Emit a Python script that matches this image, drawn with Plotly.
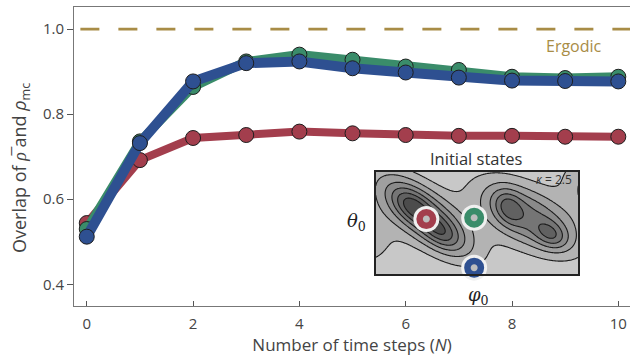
import numpy as np
import plotly.graph_objects as go

# ---------------- data ----------------
steps = list(range(11))
overlap_red = [0.544, 0.692, 0.744, 0.751, 0.759, 0.755, 0.751, 0.749, 0.749, 0.747, 0.747]
overlap_green = [0.530, 0.736, 0.864, 0.924, 0.940, 0.928, 0.912, 0.904, 0.888, 0.885, 0.888]
overlap_blue = [0.512, 0.732, 0.877, 0.920, 0.924, 0.908, 0.898, 0.886, 0.879, 0.878, 0.877]
ergodic_level = 1.0
x_ticks = [0, 2, 4, 6, 8, 10]
y_ticks = [0.4, 0.6, 0.8, 1.0]
y_ticklabels = ["0.4", "0.6", "0.8", "1.0"]

# inset: phase-space landscape (blob centres / widths)
blob_cx = [0.48, 0.353, 0.649, 1.50, 1.308, 1.736]
blob_cy = [0.58, 0.668, 0.407, 0.56, 0.651, 0.381]
blob_amp = [0.70, 0.30, 0.28, 0.62, 0.30, 0.30]
blob_major = [0.42, 0.15, 0.15, 0.40, 0.12, 0.12]
blob_minor = [0.17, 0.09, 0.09, 0.20, 0.09, 0.085]
blob_angle = [-38, -38, -38, -28, -60, -30]
contour_levels = [0.16, 0.30, 0.44, 0.58, 0.72, 0.86]

init_phi = [0.50, 0.972, 0.972]
init_theta = [0.537, 0.550, 0.062]

RED = "#a33e4d"
GREEN = "#3a8c6a"
BLUE = "#2e5091"
GOLD = "#a88c46"
init_colors = [RED, GREEN, BLUE]

FONT = "Open Sans"
TXT = "#444444"

# ---------------- figure ----------------
fig = go.Figure()

# ergodic dashed line
fig.add_trace(go.Scatter(
    x=[-0.12, 10.3], y=[ergodic_level, ergodic_level], mode="lines",
    line=dict(color=GOLD, width=2.6, dash="19px,19px"), hoverinfo="skip", showlegend=False))

for vals, col, lw in [(overlap_red, RED, 8), (overlap_green, GREEN, 9), (overlap_blue, BLUE, 10)]:
    fig.add_trace(go.Scatter(
        x=steps, y=vals, mode="lines+markers",
        line=dict(color=col, width=lw),
        marker=dict(size=15, color=col, line=dict(color="#1e1e1e", width=1)),
        showlegend=False, cliponaxis=False))

# inset contour (periodic in phi)
gx = np.linspace(0, 2, 201)
gy = np.linspace(0, 1, 101)
GX, GY = np.meshgrid(gx, gy)
Z = np.zeros_like(GX)
for cx, cy, a, s1, s2, ang in zip(blob_cx, blob_cy, blob_amp, blob_major, blob_minor, blob_angle):
    t = np.deg2rad(ang)
    for shift in (-2.0, 0.0, 2.0):
        dx = GX - (cx + shift)
        dy = GY - cy
        u = dx * np.cos(t) + dy * np.sin(t)
        v = -dx * np.sin(t) + dy * np.cos(t)
        Z += a * np.exp(-0.5 * ((u / s1) ** 2 + (v / s2) ** 2))
Z = Z / Z.max()

fig.add_trace(go.Contour(
    x=gx, y=gy, z=Z, xaxis="x2", yaxis="y2",
    autocontour=False,
    contours=dict(start=contour_levels[0], end=contour_levels[-1],
                  size=contour_levels[1] - contour_levels[0], coloring="fill"),
    colorscale=[[0, "#c8c8c8"], [1, "#4c4c4c"]], zmin=0.05, zmax=0.95,
    line=dict(color="#1a1a1a", width=1.1), showscale=False, hoverinfo="skip"))

# initial-state markers
fig.add_trace(go.Scatter(
    x=init_phi, y=init_theta, xaxis="x2", yaxis="y2", mode="markers",
    marker=dict(size=26, color="#f0f0f0", line=dict(width=0)),
    showlegend=False, cliponaxis=False, hoverinfo="skip"))
fig.add_trace(go.Scatter(
    x=init_phi, y=init_theta, xaxis="x2", yaxis="y2", mode="markers",
    marker=dict(size=13.5, color="#bdbdbd", line=dict(width=6.5, color=init_colors)),
    showlegend=False, cliponaxis=False, hoverinfo="skip"))

# geometry
L, R, T, B = 74, 0, 7, 51
W, H = 630, 357
pw, ph = W - L - R, H - T - B

def px(x):
    return (x - L) / pw

def py(y):
    return (H - B - y) / ph

def note(text, x, y, size, color, family=FONT, angle=0):
    return dict(text=text, x=px(x), y=py(y), xref="paper", yref="paper",
                xanchor="center", yanchor="middle", showarrow=False, textangle=angle,
                font=dict(size=size, color=color, family=family))

fig.update_layout(
    width=W, height=H,
    margin=dict(l=L, r=R, t=T, b=B),
    paper_bgcolor="white", plot_bgcolor="white",
    font=dict(family=FONT, color=TXT, size=15),
    xaxis=dict(range=[-0.24, 10.22], tickvals=x_ticks, ticks="inside", ticklen=5,
               tickcolor="#555", showline=True, linecolor="#777", linewidth=1, mirror=True,
               showgrid=False, zeroline=False, tickfont=dict(size=15, color=TXT),
               ticklabelstandoff=4,
               title=dict(text="Number of time steps (<i>N</i>)", font=dict(size=17, color=TXT),
                          standoff=6)),
    yaxis=dict(range=[0.349, 1.052], tickvals=y_ticks, ticktext=y_ticklabels, ticks="outside",
               ticklen=6, tickcolor="#555", showline=True, linecolor="#777", linewidth=1,
               showgrid=False, zeroline=False, tickfont=dict(size=15, color=TXT)),
    xaxis2=dict(domain=[px(375.7), px(578.3)], anchor="y2", range=[0, 2],
                showticklabels=False, ticks="", showgrid=False, zeroline=False,
                showline=True, linecolor="#222", linewidth=1.5, mirror=True),
    yaxis2=dict(domain=[py(274), py(171.7)], anchor="x2", range=[0, 1],
                showticklabels=False, ticks="", showgrid=False, zeroline=False,
                showline=True, linecolor="#222", linewidth=1.5, mirror=True),
    annotations=[
        note("Overlap of <i>ρ\u0305</i> and <i>ρ</i><sub>mc</sub>", 20, 168, 18, TXT, angle=-90),
        note("Ergodic", 574, 45.7, 16, GOLD),
        note("Initial states", 476.7, 158.3, 16.5, "#333"),
        note("<i>κ</i> = 2.5", 554, 179, 12, "#333"),
        note("<i>θ</i><sub>0</sub>", 356, 222, 18, "#222", family="DejaVu Serif"),
        note("<i>φ</i><sub>0</sub>", 478, 296, 18, "#222", family="DejaVu Serif"),
    ],
)

fig.write_html("out.html", config={"displayModeBar": False},
               post_script="document.body.style.margin='0px';")
